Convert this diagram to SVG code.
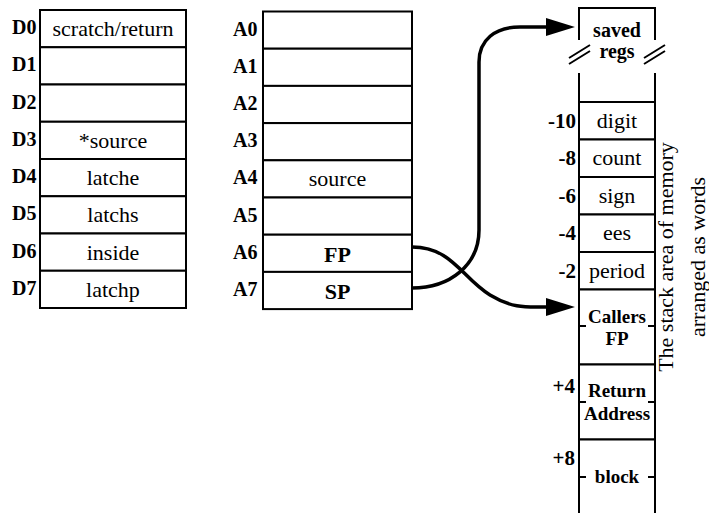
<svg xmlns="http://www.w3.org/2000/svg" width="709" height="513" viewBox="0 0 709 513">
<defs>
<style>
.box{fill:#fff;stroke:#000;stroke-width:2}
.ln{fill:none;stroke:#000;stroke-width:2}
.wire{fill:none;stroke:#000;stroke-width:3.5}
</style>
<marker id="ah" markerWidth="30" markerHeight="18" refX="0" refY="9" orient="auto" markerUnits="userSpaceOnUse"><path d="M0,0 L29,9 L0,18 z" fill="#000"/></marker>
</defs>
<rect width="709" height="513" fill="#fff"/>

<g id="dregs">
<g id="D0"><rect class="box" x="40" y="10" width="146" height="37.25"/><g><text font-family="Liberation Serif" style="font-family:'Liberation Serif',serif;font-size:20px;font-weight:bold" x="12" y="34">D0</text><text font-family="Liberation Serif" style="font-family:'Liberation Serif',serif;font-size:22px;text-anchor:middle" x="113" y="36">scratch/return</text></g></g>
<g id="D1"><rect class="box" x="40" y="47.25" width="146" height="37.25"/><g><text font-family="Liberation Serif" style="font-family:'Liberation Serif',serif;font-size:20px;font-weight:bold" x="12" y="71.25">D1</text></g></g>
<g id="D2"><rect class="box" x="40" y="84.5" width="146" height="37.25"/><g><text font-family="Liberation Serif" style="font-family:'Liberation Serif',serif;font-size:20px;font-weight:bold" x="12" y="108.5">D2</text></g></g>
<g id="D3"><rect class="box" x="40" y="121.75" width="146" height="37.25"/><g><text font-family="Liberation Serif" style="font-family:'Liberation Serif',serif;font-size:20px;font-weight:bold" x="12" y="145.75">D3</text><text font-family="Liberation Serif" style="font-family:'Liberation Serif',serif;font-size:22px;text-anchor:middle" x="113" y="147.75">*source</text></g></g>
<g id="D4"><rect class="box" x="40" y="159" width="146" height="37.25"/><g><text font-family="Liberation Serif" style="font-family:'Liberation Serif',serif;font-size:20px;font-weight:bold" x="12" y="183">D4</text><text font-family="Liberation Serif" style="font-family:'Liberation Serif',serif;font-size:22px;text-anchor:middle" x="113" y="185">latche</text></g></g>
<g id="D5"><rect class="box" x="40" y="196.25" width="146" height="37.25"/><g><text font-family="Liberation Serif" style="font-family:'Liberation Serif',serif;font-size:20px;font-weight:bold" x="12" y="220.25">D5</text><text font-family="Liberation Serif" style="font-family:'Liberation Serif',serif;font-size:22px;text-anchor:middle" x="113" y="222.25">latchs</text></g></g>
<g id="D6"><rect class="box" x="40" y="233.5" width="146" height="37.25"/><g><text font-family="Liberation Serif" style="font-family:'Liberation Serif',serif;font-size:20px;font-weight:bold" x="12" y="257.5">D6</text><text font-family="Liberation Serif" style="font-family:'Liberation Serif',serif;font-size:22px;text-anchor:middle" x="113" y="259.5">inside</text></g></g>
<g id="D7"><rect class="box" x="40" y="270.75" width="146" height="37.25"/><g><text font-family="Liberation Serif" style="font-family:'Liberation Serif',serif;font-size:20px;font-weight:bold" x="12" y="294.75">D7</text><text font-family="Liberation Serif" style="font-family:'Liberation Serif',serif;font-size:22px;text-anchor:middle" x="113" y="296.75">latchp</text></g></g>
</g>

<g id="aregs">
<g id="A0"><rect class="box" x="263" y="11.5" width="149" height="37.2"/><g><text font-family="Liberation Serif" style="font-family:'Liberation Serif',serif;font-size:20px;font-weight:bold" x="233" y="35.5">A0</text></g></g>
<g id="A1"><rect class="box" x="263" y="48.7" width="149" height="37.2"/><g><text font-family="Liberation Serif" style="font-family:'Liberation Serif',serif;font-size:20px;font-weight:bold" x="233" y="72.7">A1</text></g></g>
<g id="A2"><rect class="box" x="263" y="85.9" width="149" height="37.2"/><g><text font-family="Liberation Serif" style="font-family:'Liberation Serif',serif;font-size:20px;font-weight:bold" x="233" y="109.9">A2</text></g></g>
<g id="A3"><rect class="box" x="263" y="123.1" width="149" height="37.2"/><g><text font-family="Liberation Serif" style="font-family:'Liberation Serif',serif;font-size:20px;font-weight:bold" x="233" y="147.1">A3</text></g></g>
<g id="A4"><rect class="box" x="263" y="160.3" width="149" height="37.2"/><g><text font-family="Liberation Serif" style="font-family:'Liberation Serif',serif;font-size:20px;font-weight:bold" x="233" y="184.3">A4</text><text font-family="Liberation Serif" style="font-family:'Liberation Serif',serif;font-size:22px;text-anchor:middle" x="337.5" y="185.5">source</text></g></g>
<g id="A5"><rect class="box" x="263" y="197.5" width="149" height="37.2"/><g><text font-family="Liberation Serif" style="font-family:'Liberation Serif',serif;font-size:20px;font-weight:bold" x="233" y="221.5">A5</text></g></g>
<g id="A6"><rect class="box" x="263" y="234.7" width="149" height="37.2"/><g><text font-family="Liberation Serif" style="font-family:'Liberation Serif',serif;font-size:20px;font-weight:bold" x="233" y="258.7">A6</text><text font-family="Liberation Serif" style="font-family:'Liberation Serif',serif;font-size:22px;font-weight:bold;text-anchor:middle" x="337.5" y="262">FP</text></g></g>
<g id="A7"><rect class="box" x="263" y="271.9" width="149" height="37.2"/><g><text font-family="Liberation Serif" style="font-family:'Liberation Serif',serif;font-size:20px;font-weight:bold" x="233" y="295.9">A7</text><text font-family="Liberation Serif" style="font-family:'Liberation Serif',serif;font-size:22px;font-weight:bold;text-anchor:middle" x="337.5" y="299">SP</text></g></g>
</g>

<g id="stack">
<g id="saved"><path class="ln" d="M579,40 L579,8 L655,8 L655,40"/>
<path class="ln" d="M569,58 L590,45 M569,64 L590,51 M644,58 L665,45 M644,64 L665,51"/>
<g><text font-family="Liberation Serif" style="font-family:'Liberation Serif',serif;font-size:20px;font-weight:bold;text-anchor:middle" x="617" y="37">saved</text><text font-family="Liberation Serif" style="font-family:'Liberation Serif',serif;font-size:20px;font-weight:bold;text-anchor:middle" x="617" y="58">regs</text></g></g>
<path class="ln" d="M579,73 L579,515 M655,73 L655,515"/>
<g id="digit"><rect class="box" x="579" y="102" width="76" height="37.5"/><g><text font-family="Liberation Serif" style="font-family:'Liberation Serif',serif;font-size:21px;font-weight:bold;text-anchor:end" x="576" y="127.5">-10</text><text font-family="Liberation Serif" style="font-family:'Liberation Serif',serif;font-size:22px;text-anchor:middle" x="617" y="127.5">digit</text></g></g>
<g id="count"><rect class="box" x="579" y="139.5" width="76" height="37.5"/><g><text font-family="Liberation Serif" style="font-family:'Liberation Serif',serif;font-size:21px;font-weight:bold;text-anchor:end" x="576" y="165">-8</text><text font-family="Liberation Serif" style="font-family:'Liberation Serif',serif;font-size:22px;text-anchor:middle" x="617" y="165">count</text></g></g>
<g id="sign"><rect class="box" x="579" y="177" width="76" height="37.5"/><g><text font-family="Liberation Serif" style="font-family:'Liberation Serif',serif;font-size:21px;font-weight:bold;text-anchor:end" x="576" y="202.5">-6</text><text font-family="Liberation Serif" style="font-family:'Liberation Serif',serif;font-size:22px;text-anchor:middle" x="617" y="202.5">sign</text></g></g>
<g id="ees"><rect class="box" x="579" y="214.5" width="76" height="37.5"/><g><text font-family="Liberation Serif" style="font-family:'Liberation Serif',serif;font-size:21px;font-weight:bold;text-anchor:end" x="576" y="240">-4</text><text font-family="Liberation Serif" style="font-family:'Liberation Serif',serif;font-size:22px;text-anchor:middle" x="617" y="240">ees</text></g></g>
<g id="period"><rect class="box" x="579" y="252" width="76" height="37.5"/><g><text font-family="Liberation Serif" style="font-family:'Liberation Serif',serif;font-size:21px;font-weight:bold;text-anchor:end" x="576" y="277.5">-2</text><text font-family="Liberation Serif" style="font-family:'Liberation Serif',serif;font-size:22px;text-anchor:middle" x="617" y="277.5">period</text></g></g>
<g id="callersfp"><rect class="box" x="579" y="289.5" width="76" height="75"/><path class="ln" d="M579,326 L586,326 M648,326 L655,326"/><g><text font-family="Liberation Serif" style="font-family:'Liberation Serif',serif;font-size:19px;font-weight:bold;text-anchor:middle" x="617" y="323">Callers</text><text font-family="Liberation Serif" style="font-family:'Liberation Serif',serif;font-size:19px;font-weight:bold;text-anchor:middle" x="617" y="345">FP</text></g></g>
<g id="retaddr"><rect class="box" x="579" y="364.5" width="76" height="75"/><path class="ln" d="M579,402 L586,402 M648,402 L655,402"/><g><text font-family="Liberation Serif" style="font-family:'Liberation Serif',serif;font-size:21px;font-weight:bold;text-anchor:end" x="575" y="393">+4</text><text font-family="Liberation Serif" style="font-family:'Liberation Serif',serif;font-size:19px;font-weight:bold;text-anchor:middle" x="617" y="397">Return</text><text font-family="Liberation Serif" style="font-family:'Liberation Serif',serif;font-size:19px;font-weight:bold;text-anchor:middle" x="617" y="420">Address</text></g></g>
<g id="block"><rect class="box" x="579" y="439.5" width="76" height="80"/><path class="ln" d="M579,477 L586,477 M648,477 L655,477"/><g><text font-family="Liberation Serif" style="font-family:'Liberation Serif',serif;font-size:21px;font-weight:bold;text-anchor:end" x="575" y="465">+8</text><text font-family="Liberation Serif" style="font-family:'Liberation Serif',serif;font-size:19px;font-weight:bold;text-anchor:middle" x="617" y="483">block</text></g></g>
<g id="caption"><text font-family="Liberation Serif" style="font-family:'Liberation Serif',serif;font-size:22px;text-anchor:middle" transform="translate(673,257) rotate(-90)">The stack area of memory</text><text font-family="Liberation Serif" style="font-family:'Liberation Serif',serif;font-size:22px;text-anchor:middle" transform="translate(705,257) rotate(-90)">arranged as words</text></g>
</g>

<g id="connectors">
<path class="wire" d="M412,288 C450,288 479,265 479,230 L479,62 C479,40 495,27 520,27 L546,27" marker-end="url(#ah)"/>
<path class="wire" d="M412,247 C452,247 462,278 490,295 C513,309 528,307 546,307" marker-end="url(#ah)"/>
</g>
</svg>
